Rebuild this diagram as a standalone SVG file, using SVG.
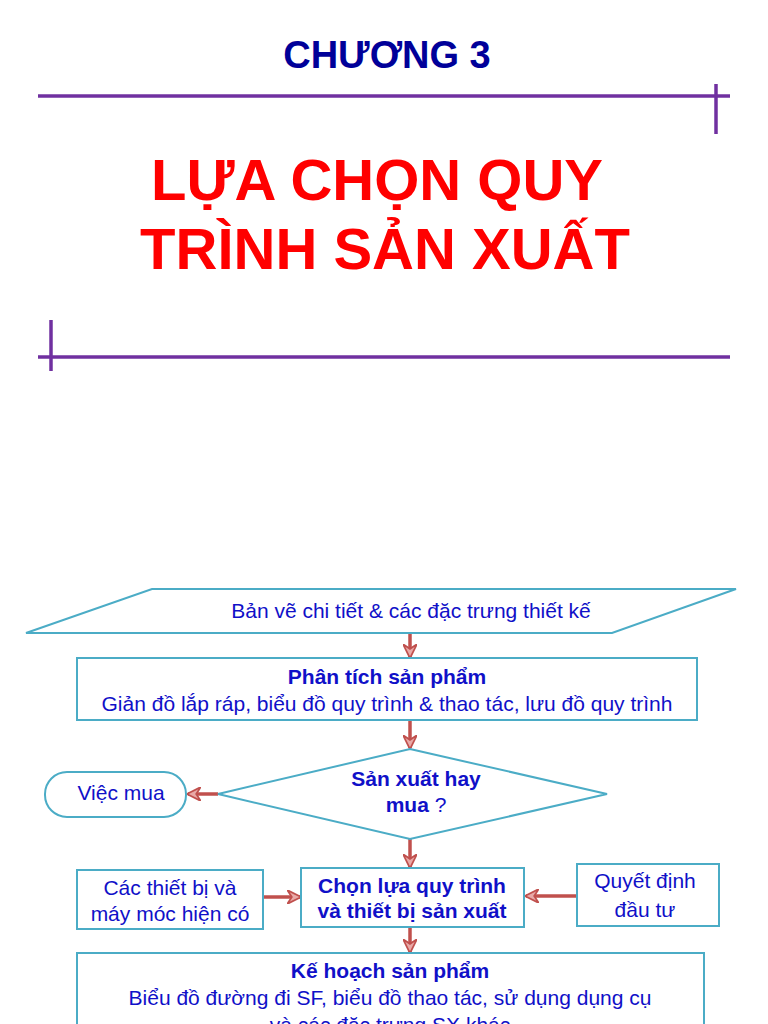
<svg xmlns="http://www.w3.org/2000/svg" width="768" height="1024" viewBox="0 0 768 1024">
<style>
.t{font-family:"Liberation Sans",Arial,sans-serif;fill:#1010c8;font-size:21px;text-anchor:middle}
.b{font-weight:bold}
.box{fill:#fff;stroke:#4bacc6;stroke-width:2}
.pl{stroke:#7030a0;stroke-width:3.5;fill:none}
.c{stroke:#c0504d;stroke-width:3.5;fill:none}
</style>
<defs>
<marker id="ah" viewBox="0 0 12 12" refX="11" refY="6" markerWidth="4" markerHeight="4" orient="auto" markerUnits="strokeWidth">
<path d="M0,0 L12,6 L0,12 L4,6 z" fill="#e9a9a7" stroke="#c0504d" stroke-width="1.5"/>
</marker>
</defs>
<rect width="768" height="1024" fill="#fff"/>
<g id="header">
<text x="387" y="68" font-family="'Liberation Sans',Arial,sans-serif" font-weight="bold" font-size="38" fill="#000099" text-anchor="middle">CHƯƠNG 3</text>
<line class="pl" x1="38" y1="96" x2="730" y2="96"/>
<line class="pl" x1="716" y1="84" x2="716" y2="134"/>
<text x="377" y="200" font-family="'Liberation Sans',Arial,sans-serif" font-weight="bold" font-size="58" fill="#ff0000" text-anchor="middle">LỰA CHỌN QUY</text>
<text x="385" y="269" font-family="'Liberation Sans',Arial,sans-serif" font-weight="bold" font-size="58" fill="#ff0000" text-anchor="middle">TRÌNH SẢN XUẤT</text>
<line class="pl" x1="38" y1="357" x2="730" y2="357"/>
<line class="pl" x1="51" y1="320" x2="51" y2="371"/>
</g>
<g id="connectors">
<line class="c" x1="410" y1="634" x2="410" y2="657" marker-end="url(#ah)"/>
<line class="c" x1="410" y1="721" x2="410" y2="748" marker-end="url(#ah)"/>
<line class="c" x1="218" y1="794" x2="188" y2="794" marker-end="url(#ah)"/>
<line class="c" x1="410" y1="839" x2="410" y2="867" marker-end="url(#ah)"/>
<line class="c" x1="264" y1="897" x2="300" y2="897" marker-end="url(#ah)"/>
<line class="c" x1="577" y1="896" x2="526" y2="896" marker-end="url(#ah)"/>
<line class="c" x1="410" y1="928" x2="410" y2="952" marker-end="url(#ah)"/>
</g>
<g id="n1">
<polygon class="box" points="152,589 736,589 612,633 26,633"/>
<text class="t" x="411" y="618">Bản vẽ chi tiết &amp; các đặc trưng thiết kế</text>
</g>
<g id="n2">
<rect class="box" x="77" y="658" width="620" height="62"/>
<text class="t b" x="387" y="684">Phân tích sản phẩm</text>
<text class="t" x="387" y="711">Giản đồ lắp ráp, biểu đồ quy trình &amp; thao tác, lưu đồ quy trình</text>
</g>
<g id="n3">
<polygon class="box" points="410,749 607,794 410,839 218,794"/>
<text class="t b" x="416" y="786">Sản xuất hay</text>
<text class="t" x="416" y="812"><tspan class="b">mua</tspan> ?</text>
</g>
<g id="n4">
<rect class="box" x="45" y="772" width="141" height="45" rx="22"/>
<text class="t" x="121" y="800">Việc mua</text>
</g>
<g id="n5">
<rect class="box" x="301" y="868" width="223" height="59"/>
<text class="t b" x="412" y="893">Chọn lựa quy trình</text>
<text class="t b" x="412" y="918">và thiết bị sản xuất</text>
</g>
<g id="n6">
<rect class="box" x="77" y="870" width="186" height="59"/>
<text class="t" x="170" y="895">Các thiết bị và</text>
<text class="t" x="170" y="921">máy móc hiện có</text>
</g>
<g id="n7">
<rect class="box" x="577" y="864" width="142" height="62"/>
<text class="t" x="645" y="888">Quyết định</text>
<text class="t" x="645" y="917">đầu tư</text>
</g>
<g id="n8">
<rect class="box" x="77" y="953" width="627" height="90"/>
<text class="t b" x="390" y="978">Kế hoạch sản phẩm</text>
<text class="t" x="390" y="1005">Biểu đồ đường đi SF, biểu đồ thao tác, sử dụng dụng cụ</text>
<text class="t" x="390" y="1032">và các đặc trưng SX khác</text>
</g>
</svg>
